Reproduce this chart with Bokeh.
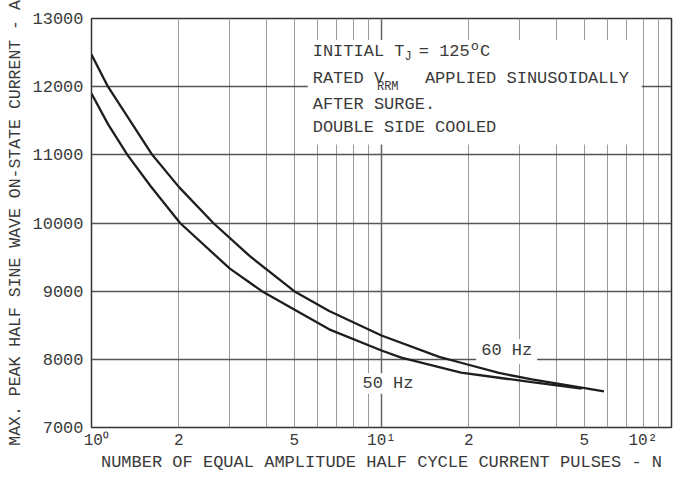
from bokeh.plotting import figure
from bokeh.models import FixedTicker, Label, BoxAnnotation, Grid, Range1d
from bokeh.embed import file_html
from bokeh.resources import INLINE

# ---- data ----
n_60hz = [1.0, 1.14, 1.62, 2.0, 2.63, 3.5, 5.0, 6.6, 10, 15.8, 18.8, 25.4, 33, 49, 58.5]
i_60hz = [12470, 12000, 11000, 10530, 10000, 9520, 9000, 8710, 8350, 8035, 7950, 7800, 7705, 7585, 7530]
n_50hz = [1.0, 1.14, 1.33, 1.6, 2.02, 3.0, 3.87, 6.6, 10, 11.7, 18.8, 25.4, 33, 49]
i_50hz = [11900, 11450, 11000, 10540, 10000, 9330, 9000, 8440, 8130, 8025, 7805, 7730, 7665, 7570]

x_major = [1, 2, 5, 10, 20, 50, 100]
x_minor = [3, 4, 6, 7, 8, 9, 30, 40, 60, 70, 80, 90]
x_tick_text = ["\u00a010\u2070", "2", "5", "10\u00b9", "2", "5", "10\u00b2\u00a0\u00a0"]
y_ticks = [7000, 8000, 9000, 10000, 11000, 12000, 13000]

x_title = "NUMBER OF EQUAL AMPLITUDE HALF CYCLE CURRENT PULSES - N"
y_title = "MAX. PEAK HALF SINE WAVE ON-STATE CURRENT - A"

# ---- style ----
FONT = "Liberation Mono"
FS = 17
PITCH = 0.6 * FS
TEXT_C = "#3a3a3a"
CURVE_C = "#1e1e1e"

p = figure(width=676, height=474, x_axis_type="log",
           x_range=Range1d(1, 100), y_range=Range1d(7000, 13000),
           output_backend="svg", toolbar_location=None,
           min_border_left=91, min_border_right=5, min_border_top=18, min_border_bottom=40)
p.background_fill_color = "white"
p.border_fill_color = "white"
p.outline_line_color = "#333333"
p.outline_line_width = 1.5

# axes
p.xaxis.ticker = FixedTicker(ticks=x_major, minor_ticks=x_minor)
p.xaxis.major_label_overrides = dict(zip(x_major, x_tick_text))
p.yaxis.ticker = FixedTicker(ticks=y_ticks)
for ax in (p.xaxis[0], p.yaxis[0]):
    ax.axis_line_color = None
    ax.major_tick_line_color = None
    ax.minor_tick_line_color = None
    ax.major_tick_out = 0
    ax.minor_tick_out = 0
    ax.major_tick_in = 0
    ax.minor_tick_in = 0
    ax.major_label_text_font = FONT
    ax.major_label_text_color = TEXT_C
    ax.axis_label_text_font = FONT
    ax.axis_label_text_font_style = "normal"
    ax.axis_label_text_color = TEXT_C
p.xaxis.axis_label = x_title
p.xaxis.major_label_text_font_size = "16px"
p.xaxis.axis_label_text_font_size = f"{FS}px"
p.xaxis.major_label_standoff = 4
p.xaxis.axis_label_standoff = 0
p.yaxis.axis_label = y_title
p.yaxis.major_label_text_font_size = f"{FS}px"
p.yaxis.axis_label_text_font_size = "16.5px"
p.yaxis.major_label_standoff = 8
p.yaxis.axis_label_standoff = 4

# grids
p.xgrid.grid_line_color = "#9a9a9a"
p.xgrid.grid_line_width = 1
p.xgrid.minor_grid_line_color = "#9a9a9a"
p.xgrid.minor_grid_line_width = 1
p.ygrid.grid_line_color = "#555555"
p.ygrid.grid_line_width = 1.5
p.add_layout(Grid(dimension=0, ticker=FixedTicker(ticks=[10]), grid_line_color="#666666", grid_line_width=1.5))

# curves
p.line(n_60hz, i_60hz, line_color=CURVE_C, line_width=2.3)
p.line(n_50hz, i_50hz, line_color=CURVE_C, line_width=2.3)

# white masks behind texts (grid interrupted in the reference)
for (l, r, b, t) in [(5.57, 78.9, 11151, 12685), (21.2, 34.4, 7930, 8300), (8.39, 13.3, 7495, 7795)]:
    p.add_layout(BoxAnnotation(left=l, right=r, bottom=b, top=t, fill_color="white",
                               fill_alpha=1.0, line_color=None))


def lab(x, y, text, dx=0.0, size=FS, align="left"):
    p.add_layout(Label(x=x, y=y, x_offset=dx, text=text, text_font=FONT,
                       text_font_size=f"{size}px", text_color=TEXT_C,
                       text_baseline="middle", text_align=align))


TX = 5.79
lab(TX, 12513, "INITIAL T")
lab(TX, 12440, "J", dx=9 * PITCH, size=12)
lab(TX, 12513, "= 125\u00baC", dx=10.4 * PITCH)
lab(TX, 12125, "RATED V")
lab(TX, 11990, "RRM", dx=6.3 * PITCH, size=12)
lab(TX, 12125, "APPLIED SINUSOIDALLY", dx=11 * PITCH)
lab(TX, 11738, "AFTER SURGE.")
lab(TX, 11394, "DOUBLE SIDE COOLED")
lab(22.07, 8125, "60 Hz")
lab(8.6, 7652, "50 Hz")

open("out.html", "w").write(file_html(p, INLINE))
